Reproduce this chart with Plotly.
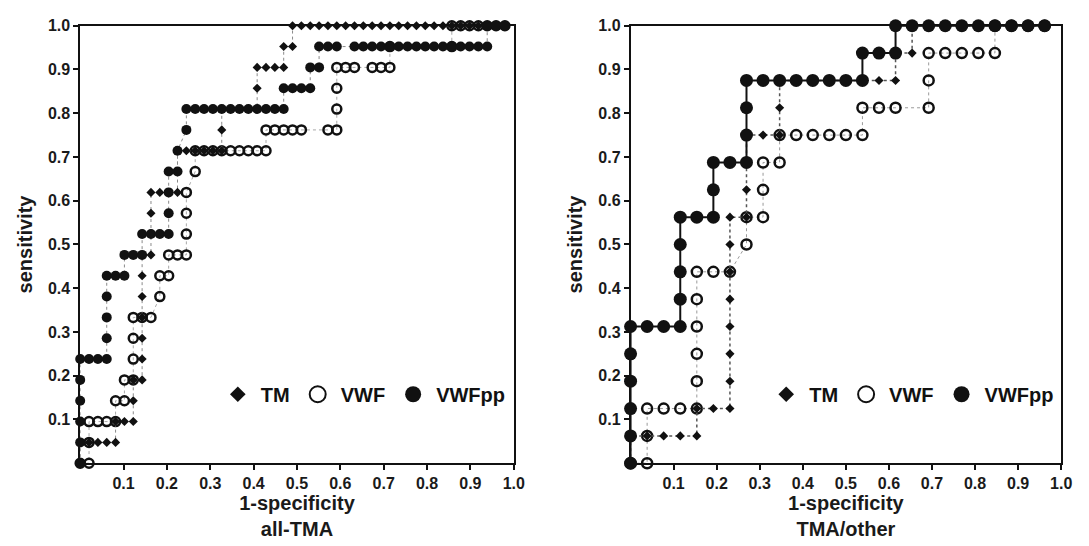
import plotly.graph_objects as go

# ---------------- data (counts) ----------------
# all-TMA panel: 49 negatives (x step), 21 positives (y step)
ALL_NEG = 49
ALL_POS = 21
all_tm_fp = [0, 0, 1, 2, 3, 4, 4, 5, 6, 6, 6, 7, 7, 7, 7, 7, 7, 7, 8, 8,
             8, 8, 9, 10, 11, 11, 11, 12, 13, 14, 15, 16, 16, 16, 17, 18, 19, 20, 20, 20,
             21, 22, 23, 23, 24, 24, 25, 26, 27, 28, 29, 30, 31, 32, 33, 34, 35, 36, 37, 38,
             39, 40, 41, 42, 43, 44, 45, 46, 47, 48]
all_tm_tp = [0, 1, 1, 1, 1, 1, 2, 2, 2, 3, 4, 4, 5, 6, 7, 8, 9, 10, 10, 11,
             12, 13, 13, 13, 13, 14, 15, 15, 15, 15, 15, 15, 16, 17, 17, 17, 17, 17, 18, 19,
             19, 19, 19, 20, 20, 21, 21, 21, 21, 21, 21, 21, 21, 21, 21, 21, 21, 21, 21, 21,
             21, 21, 21, 21, 21, 21, 21, 21, 21, 21]
all_vwf_fp = [0, 1, 1, 1, 2, 3, 4, 4, 5, 5, 6, 6, 6, 6, 7, 8, 9, 9, 10, 10,
              11, 12, 12, 12, 12, 13, 13, 14, 15, 16, 17, 18, 19, 20, 21, 21, 22, 23, 24, 25,
              28, 29, 29, 29, 29, 30, 31, 33, 34, 35, 35, 42, 42, 43, 44, 45, 46, 47, 48]
all_vwf_tp = [0, 0, 1, 2, 2, 2, 2, 3, 3, 4, 4, 5, 6, 7, 7, 7, 8, 9, 9, 10,
              10, 10, 11, 12, 13, 14, 15, 15, 15, 15, 15, 15, 15, 15, 15, 16, 16, 16, 16, 16,
              16, 16, 17, 18, 19, 19, 19, 19, 19, 19, 20, 20, 21, 21, 21, 21, 21, 21, 21]
all_pp_fp = [0, 0, 0, 0, 0, 0, 1, 2, 3, 3, 3, 3, 3, 4, 5, 5, 6, 7, 7, 8,
             9, 10, 10, 10, 10, 11, 11, 12, 12, 13, 14, 15, 16, 17, 18, 19, 20, 21, 22, 23,
             23, 24, 25, 26, 26, 27, 27, 28, 29, 31, 32, 33, 34, 35, 36, 37, 38, 39, 40, 41,
             42, 43, 44, 45, 46, 46, 47, 48]
all_pp_tp = [0, 1, 2, 3, 4, 5, 5, 5, 5, 6, 7, 8, 9, 9, 9, 10, 10, 10, 11, 11,
             11, 11, 12, 13, 14, 14, 15, 16, 17, 17, 17, 17, 17, 17, 17, 17, 17, 17, 17, 17,
             18, 18, 18, 18, 19, 19, 20, 20, 20, 20, 20, 20, 20, 20, 20, 20, 20, 20, 20, 20,
             20, 20, 20, 20, 20, 21, 21, 21]

# TMA/other panel: 26 negatives, 16 positives
OTH_NEG = 26
OTH_POS = 16
oth_tm_fp = [0, 0, 1, 2, 3, 4, 4, 5, 6, 6, 6, 6, 6, 6, 6, 6, 7, 7, 7, 7,
             8, 9, 9, 9, 10, 11, 12, 13, 14, 15, 16, 16, 17, 17, 18, 19, 20, 21, 22, 23,
             24, 25]
oth_tm_tp = [0, 1, 1, 1, 1, 1, 2, 2, 2, 3, 4, 5, 6, 7, 8, 9, 9, 10, 11, 12,
             12, 12, 13, 14, 14, 14, 14, 14, 14, 14, 14, 15, 15, 16, 16, 16, 16, 16, 16, 16,
             16, 16]
oth_vwf_fp = [0, 1, 1, 1, 2, 3, 4, 4, 4, 4, 4, 4, 5, 6, 7, 7, 8, 8, 8, 9,
              9, 10, 11, 12, 13, 14, 14, 15, 16, 18, 18, 18, 19, 20, 21, 22, 22, 23, 24, 25]
oth_vwf_tp = [0, 0, 1, 2, 2, 2, 2, 3, 4, 5, 6, 7, 7, 7, 8, 9, 9, 10, 11, 11,
              12, 12, 12, 12, 12, 12, 13, 13, 13, 13, 14, 15, 15, 15, 15, 15, 16, 16, 16, 16]
oth_pp_fp = [0, 0, 0, 0, 0, 0, 1, 2, 3, 3, 3, 3, 3, 4, 5, 5, 5, 6, 7, 7,
             7, 7, 8, 9, 10, 11, 12, 13, 14, 14, 15, 16, 16, 17, 18, 19, 20, 21, 22, 23,
             24, 25]
oth_pp_tp = [0, 1, 2, 3, 4, 5, 5, 5, 5, 6, 7, 8, 9, 9, 9, 10, 11, 11, 11, 12,
             13, 14, 14, 14, 14, 14, 14, 14, 14, 15, 15, 15, 16, 16, 16, 16, 16, 16, 16, 16,
             16, 16]

series_names = ["TM", "VWF", "VWFpp"]
tick_vals = [0.1, 0.2, 0.3, 0.4, 0.5, 0.6, 0.7, 0.8, 0.9, 1.0]
tick_text = ["0.1", "0.2", "0.3", "0.4", "0.5", "0.6", "0.7", "0.8", "0.9", "1.0"]
panel_titles = ["all-TMA", "TMA/other"]

# ---------------- figure ----------------
FONT = "Liberation Sans, Arial, sans-serif"
fig = go.Figure()


def frac(vals, total):
    return [v / total for v in vals]


panels = [
    dict(xa="x", ya="y", leg="legend", neg=ALL_NEG, pos=ALL_POS,
         tm=(all_tm_fp, all_tm_tp), vwf=(all_vwf_fp, all_vwf_tp), pp=(all_pp_fp, all_pp_tp),
         msz=dict(pp=10, tm=7, vwf=9),
         lines=dict(pp=dict(color="#8a8a8a", width=1, dash="dot"),
                    tm=dict(color="#8a8a8a", width=1, dash="dot"),
                    vwf=dict(color="#a8a8a8", width=1, dash="dot"))),
    dict(xa="x2", ya="y2", leg="legend2", neg=OTH_NEG, pos=OTH_POS,
         tm=(oth_tm_fp, oth_tm_tp), vwf=(oth_vwf_fp, oth_vwf_tp), pp=(oth_pp_fp, oth_pp_tp),
         msz=dict(pp=13, tm=7, vwf=10),
         lines=dict(pp=dict(color="#111111", width=2, dash="solid"),
                    tm=dict(color="#555555", width=1.5, dash="dot"),
                    vwf=dict(color="#9a9a9a", width=1, dash="dot"))),
]

for p in panels:
    # VWF (open circles)
    fx, fy = p["vwf"]
    fig.add_trace(go.Scatter(
        x=frac(fx, p["neg"]), y=frac(fy, p["pos"]), xaxis=p["xa"], yaxis=p["ya"],
        mode="lines+markers", name="VWF", showlegend=False, cliponaxis=False,
        line=p["lines"]["vwf"],
        marker=dict(symbol="circle-open", size=p["msz"]["vwf"], color="#111111",
                    line=dict(width=2.5, color="#111111"))))
    # TM (diamonds)
    fx, fy = p["tm"]
    fig.add_trace(go.Scatter(
        x=frac(fx, p["neg"]), y=frac(fy, p["pos"]), xaxis=p["xa"], yaxis=p["ya"],
        mode="lines+markers", name="TM", showlegend=False, cliponaxis=False,
        line=p["lines"]["tm"],
        marker=dict(symbol="diamond", size=p["msz"]["tm"], color="#111111")))
    # VWFpp (filled circles)
    fx, fy = p["pp"]
    fig.add_trace(go.Scatter(
        x=frac(fx, p["neg"]), y=frac(fy, p["pos"]), xaxis=p["xa"], yaxis=p["ya"],
        mode="lines+markers", name="VWFpp", showlegend=False, cliponaxis=False,
        line=p["lines"]["pp"],
        marker=dict(symbol="circle", size=p["msz"]["pp"], color="#111111")))
    # legend entries
    leg_markers = [dict(symbol="diamond", size=12, color="#111111"),
                   dict(symbol="circle-open", size=16, color="#111111", line=dict(width=2, color="#111111")),
                   dict(symbol="circle", size=16, color="#111111")]
    for nm, mk in zip(series_names, leg_markers):
        fig.add_trace(go.Scatter(
            x=[None], y=[None], xaxis=p["xa"], yaxis=p["ya"], mode="markers",
            name=nm, legend=p["leg"], showlegend=True, marker=mk))

axis_common = dict(
    range=[0, 1], showline=True, linecolor="#111111", linewidth=1.5, mirror=True,
    ticks="outside", ticklen=5, tickwidth=1.5, tickcolor="#111111",
    tickvals=tick_vals, ticktext=tick_text, showgrid=False, zeroline=False,
    tickfont=dict(family=FONT, size=16, color="#1a1a1a", weight="bold"),
)

ydom = [1 - 462 / 546, 1 - 18 / 546]
fig.update_layout(
    width=1089, height=546, autosize=False,
    margin=dict(l=0, r=0, t=0, b=0),
    paper_bgcolor="white", plot_bgcolor="white",
    xaxis=dict(domain=[81 / 1089, 519 / 1089], anchor="y", **axis_common,
               title=dict(text="1-specificity<br>" + panel_titles[0], standoff=3,
                          font=dict(family=FONT, size=20, color="#1a1a1a", weight="bold"))),
    yaxis=dict(domain=ydom, anchor="x", **axis_common,
               title=dict(text="sensitivity", standoff=10,
                          font=dict(family=FONT, size=20, color="#1a1a1a", weight="bold"))),
    xaxis2=dict(domain=[637 / 1089, 1072 / 1089], anchor="y2", **axis_common,
                title=dict(text="1-specificity<br>" + panel_titles[1], standoff=3,
                           font=dict(family=FONT, size=20, color="#1a1a1a", weight="bold"))),
    yaxis2=dict(domain=ydom, anchor="x2", **axis_common,
                title=dict(text="sensitivity", standoff=10,
                           font=dict(family=FONT, size=20, color="#1a1a1a", weight="bold"))),
    legend=dict(orientation="h", x=217 / 1089, xanchor="left", y=1 - 392 / 546, yanchor="middle",
                bgcolor="rgba(0,0,0,0)", itemsizing="trace", itemwidth=36,
                font=dict(family=FONT, size=20, color="#111111", weight="bold")),
    legend2=dict(orientation="h", x=771 / 1089, xanchor="left", y=1 - 392 / 546, yanchor="middle",
                 bgcolor="rgba(0,0,0,0)", itemsizing="trace", itemwidth=36,
                 font=dict(family=FONT, size=20, color="#111111", weight="bold")),
)

fig.write_html("out.html")
